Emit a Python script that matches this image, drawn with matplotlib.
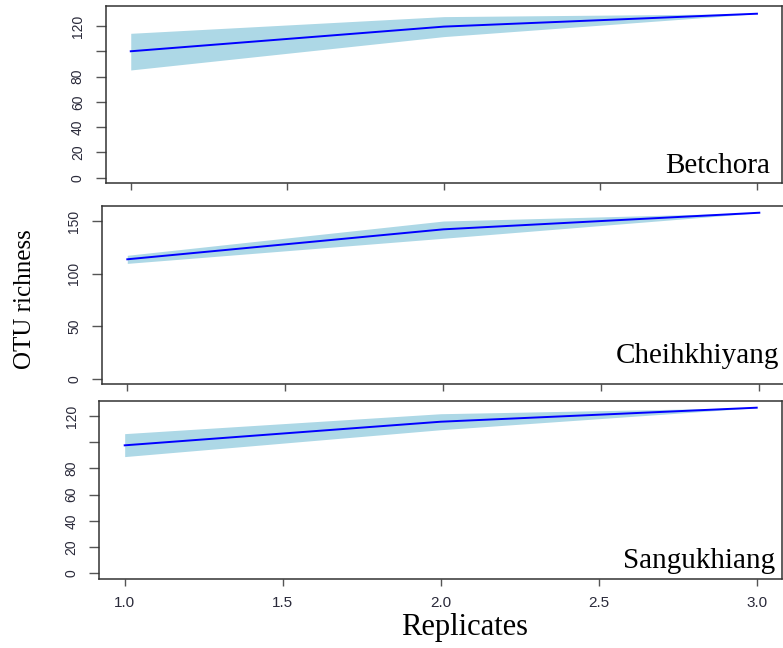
import matplotlib.pyplot as plt

# Rarefaction of OTU richness over replicates, one panel per site
replicates = [1.0, 2.0, 3.0]

sites = ["Betchora", "Cheihkhiyang", "Sangukhiang"]
richness = [
    [100.0, 119.5, 129.7],
    [113.9, 142.4, 158.2],
    [97.6, 115.6, 126.3],
]
upper = [
    [114.2, 127.4, 129.7],
    [117.7, 150.3, 158.2],
    [106.5, 121.7, 126.3],
]
lower = [
    [85.2, 111.6, 129.7],
    [110.0, 133.9, 158.2],
    [89.0, 109.5, 126.3],
]

y_ticks = [
    [0, 20, 40, 60, 80, 100, 120],
    [0, 50, 100, 150],
    [0, 20, 40, 60, 80, 100, 120],
]
y_ticklabels = [
    ["0", "20", "40", "60", "80", "", "120"],
    ["0", "50", "100", "150"],
    ["0", "20", "40", "60", "80", "", "120"],
]
y_limits = [(-4.2, 135.8), (-4.75, 164.6), (-4.35, 131.4)]
x_ticks = [1.0, 1.5, 2.0, 2.5, 3.0]

W, H = 783, 648
fig = plt.figure(figsize=(W / 100, H / 100), dpi=100)

# panel boxes in pixels: left, right, top, bottom
boxes = [(105.7, 782, 6, 183), (102, 784.6, 206, 384), (99.4, 782, 401, 579)]
label_pos = [(0.982, 0.055), (0.992, 0.118), (0.99, 0.062)]

serif = "Liberation Serif"
sans = "Liberation Sans"

for i, (l, r, t, b) in enumerate(boxes):
    ax = fig.add_axes([l / W, 1 - b / H, (r - l) / W, (b - t) / H])
    ax.fill_between(replicates, lower[i], upper[i], color="lightblue", lw=0)
    ax.plot(replicates, richness[i], color="blue", lw=1.4)
    ax.set_xlim(0.92, 3.08)
    ax.set_ylim(*y_limits[i])
    ax.set_yticks(y_ticks[i])
    ax.set_yticklabels(y_ticklabels[i], rotation=90, va="center",
                       fontsize=10, family=sans, color="#2a2a3a")
    ax.set_xticks(x_ticks)
    if i == 2:
        ax.set_xticklabels([f"{v:.1f}" for v in x_ticks], fontsize=11,
                           family=sans, color="#2a2a3a")
    else:
        ax.set_xticklabels([])
    ax.tick_params(axis="y", length=7, width=1, color="#555555", pad=8)
    ax.tick_params(axis="x", length=5, width=1, color="#555555", pad=7)
    for s in ax.spines.values():
        s.set_color("#333333")
        s.set_linewidth(1.1)
    ax.text(label_pos[i][0], label_pos[i][1], sites[i], transform=ax.transAxes,
            ha="right", va="baseline", fontsize=21, family=serif)

fig.text(25 / W, 1 - 299 / H, "OTU richness", rotation=90, ha="center",
         va="center", fontsize=18, family=serif)
fig.text(465 / W, 1 - 627 / H, "Replicates", ha="center", va="center",
         fontsize=22, family=serif)

fig.savefig("out.png", dpi=100)
